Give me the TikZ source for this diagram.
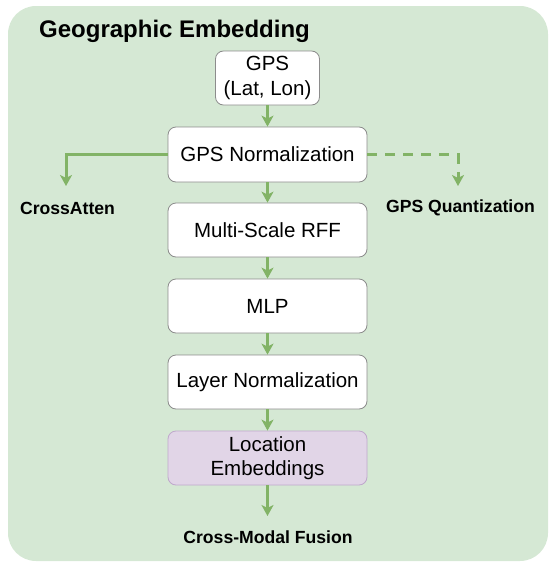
\documentclass[tikz,border=0pt]{standalone}
\usepackage{fontspec}
\setmainfont{Liberation Sans}
\usetikzlibrary{arrows.meta}
\definecolor{bggreen}{HTML}{D5E8D4}
\definecolor{arrgreen}{HTML}{82B366}
\definecolor{boxgray}{HTML}{8C8C8C}
\definecolor{locfill}{HTML}{E1D5E7}
\definecolor{locdraw}{HTML}{BFA8CC}
\tikzset{
  stepbox/.style={draw=boxgray, line width=0.8pt, fill=white, rounded corners=8pt,
    minimum width=199pt, minimum height=54pt, inner sep=0pt, align=center,
    font=\fontsize{20.5}{24.5}\selectfont},
  lbl/.style={inner sep=0pt, font=\fontsize{17.6}{20}\selectfont\bfseries},
  flow/.style={draw=arrgreen, line width=3pt,
    -{Stealth[length=11pt,width=12pt,inset=3pt,fill=arrgreen]}},
}
\begin{document}
\begin{tikzpicture}[x=1pt,y=-1pt]
\useasboundingbox (0,0) rectangle (550,570);
\fill[bggreen, rounded corners=28pt] (8,6) rectangle (548,561);
\node[anchor=base west, inner sep=0pt, font=\fontsize{24}{28}\selectfont\bfseries] (title) at (39,37) {Geographic Embedding};

\node[stepbox, minimum width=104pt, minimum height=54pt] (gps) at (267.5,78) {GPS\\(Lat, Lon)};
\node[stepbox, minimum height=55pt] (norm) at (267.5,154.5) {GPS Normalization};
\node[stepbox] (rff) at (267.5,230) {Multi-Scale RFF};
\node[stepbox] (mlp) at (267.5,306) {MLP};
\node[stepbox] (lnorm) at (267.5,382) {Layer Normalization};
\node[stepbox, fill=locfill, draw=locdraw] (loc) at (267.5,458) {Location\\Embeddings};

\node[lbl] (cross) at (67.5,208) {CrossAtten};
\node[lbl] (quant) at (460.5,208) {GPS Quantization};
\node[lbl] (fusion) at (268,537) {Cross-Modal Fusion};

\coordinate (caend) at (66,186);
\coordinate (qaend) at (458,186);
\coordinate (fuend) at (267.5,516);

\draw[flow] (gps.south) -- (norm.north);
\draw[flow] (norm.south) -- (rff.north);
\draw[flow] (rff.south) -- (mlp.north);
\draw[flow] (mlp.south) -- (lnorm.north);
\draw[flow] (lnorm.south) -- (loc.north);
\draw[flow] (loc.south) -- (fuend);
\draw[flow] (norm.west) -| (caend);
\draw[flow, dash pattern=on 10pt off 8pt] (norm.east) -| (qaend);
\end{tikzpicture}
\end{document}
